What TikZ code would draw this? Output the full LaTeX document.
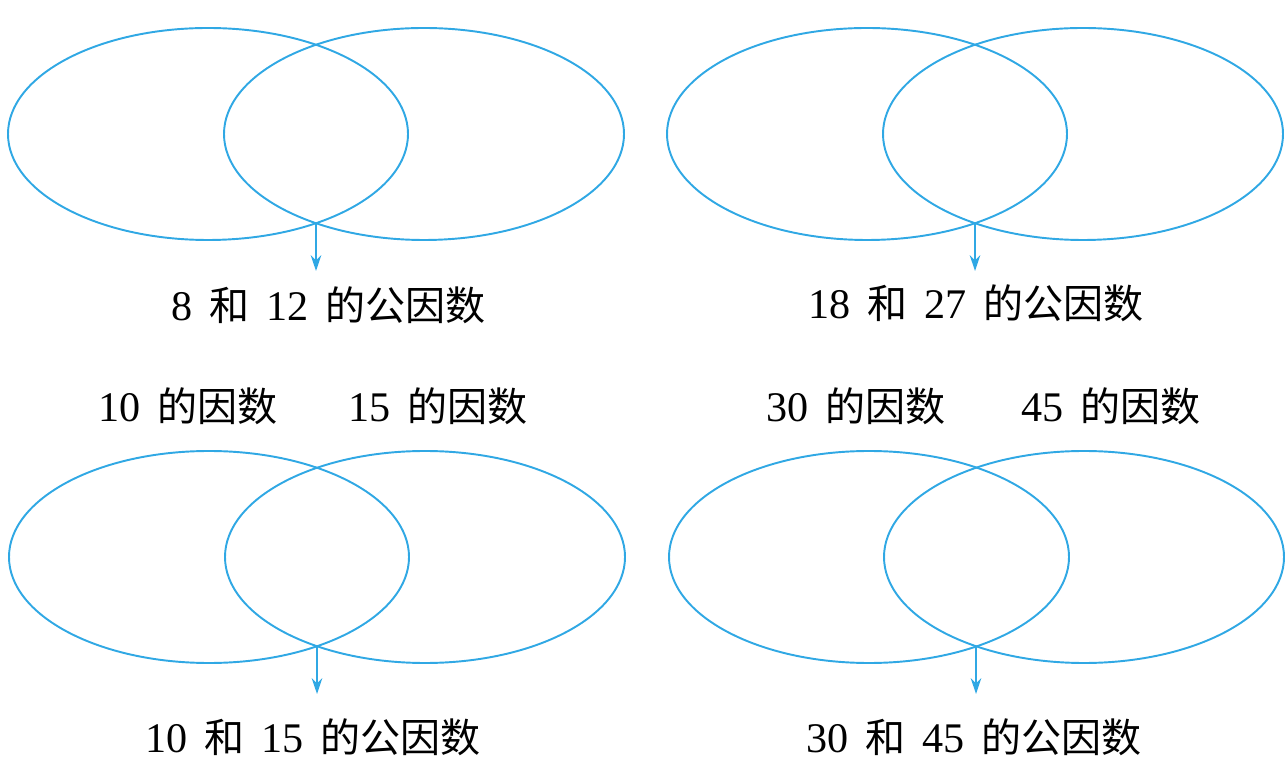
\documentclass[tikz,border=0pt]{standalone}
\usepackage{fontspec}
\setmainfont[WordSpace=1.6]{Liberation Serif}
\newfontfamily\cjk[Scale=0.95]{Noto Sans CJK SC}
\usetikzlibrary{arrows.meta}
\definecolor{vennblue}{RGB}{48,168,228}
\newcommand{\zh}[1]{{\cjk #1}}

\begin{document}
\begin{tikzpicture}[x=0.02cm,y=-0.02cm,
  venn/.style={draw=vennblue, line width=1.1pt},
  pointer/.style={draw=vennblue, line width=1.1pt, -{Stealth[length=9pt,width=6pt]}},
  lbl/.style={font=\fontsize{24}{28}\selectfont, inner sep=0pt, anchor=base west}]
\useasboundingbox (0,0) rectangle (1287,759);
%
\draw[venn] (208,134) ellipse [x radius=200, y radius=106];
\draw[venn] (424,134) ellipse [x radius=200, y radius=106];
\draw[venn] (867,134) ellipse [x radius=200, y radius=106];
\draw[venn] (1083,134) ellipse [x radius=200, y radius=106];
%
\draw[venn] (209,557) ellipse [x radius=200, y radius=106];
\draw[venn] (425,557) ellipse [x radius=200, y radius=106];
\draw[venn] (869,557) ellipse [x radius=200, y radius=106];
\draw[venn] (1084,557) ellipse [x radius=200, y radius=106];
%
\coordinate (cutA) at (316,223);
\coordinate (cutB) at (975,223);
\coordinate (cutC) at (317,646);
\coordinate (cutD) at (976,646);
\coordinate (tipA) at (316,271);
\coordinate (tipB) at (975,271);
\coordinate (tipC) at (317,694);
\coordinate (tipD) at (976,694);
\draw[pointer] (cutA) -- (tipA);
\draw[pointer] (cutB) -- (tipB);
\draw[pointer] (cutC) -- (tipC);
\draw[pointer] (cutD) -- (tipD);
%
\node[lbl] (commonA) at (171,321) {8 \zh{和} 12 \zh{的公因数}};
\node[lbl] (commonB) at (808,319) {18 \zh{和} 27 \zh{的公因数}};
\node[lbl] (commonC) at (145,752) {10 \zh{和} 15 \zh{的公因数}};
\node[lbl] (commonD) at (806,752) {30 \zh{和} 45 \zh{的公因数}};
%
\node[lbl] (factA) at (98,422) {10 \zh{的因数}};
\node[lbl] (factB) at (348,422) {15 \zh{的因数}};
\node[lbl] (factC) at (766,422) {30 \zh{的因数}};
\node[lbl] (factD) at (1021,422) {45 \zh{的因数}};
\end{tikzpicture}
\end{document}
